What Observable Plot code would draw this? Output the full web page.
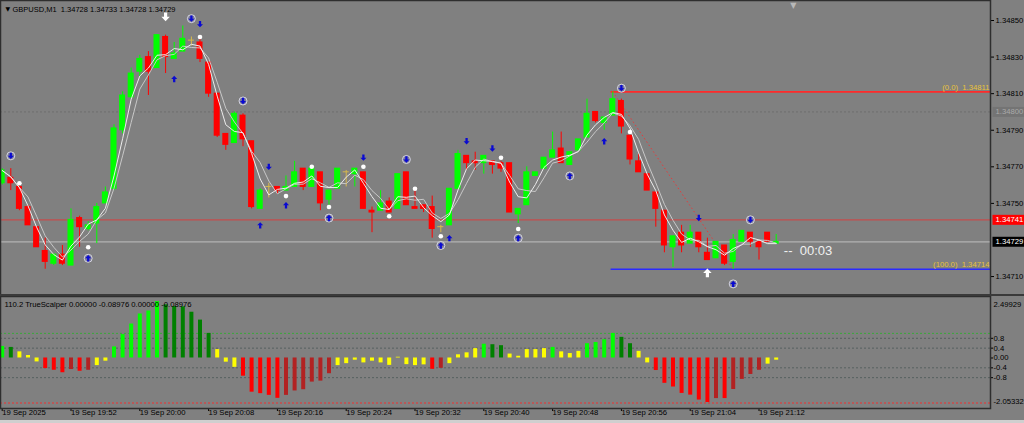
<!DOCTYPE html>
<html><head><meta charset="utf-8">
<script src="https://cdn.jsdelivr.net/npm/d3@7"></script>
<script src="https://cdn.jsdelivr.net/npm/@observablehq/plot@0.6"></script>
<style>
html,body{margin:0;padding:0;background:#808080;width:1024px;height:423px;overflow:hidden;}
#wrap{position:relative;width:1024px;height:423px;}
#main{position:absolute;left:0;top:0;}
#ind{position:absolute;left:0;top:295px;}
#sep{position:absolute;left:0;top:294px;width:1024px;height:2px;background:#3a3a3a;}
#foot{position:absolute;left:0;top:420px;width:1024px;height:3px;background:#cfcfcf;}
</style></head>
<body><div id="wrap"><div id="main"></div><div id="ind"></div><div id="sep"></div><div id="foot"></div></div>
<script>
// ---------- DATA ----------
const symbol = "GBPUSD,M1";
const openP = [1.34761,1.34764,1.34759,1.34748,1.34737,1.34724,1.34717,1.34722,1.34716,1.34742,1.34736,1.34739,1.34750,1.34758,1.34790,1.34808,1.34822,1.34830,1.34824,1.34841,1.34829,1.34833,1.34839,1.34838,1.34827,1.34810,1.34788,1.34783,1.34798,1.34784,1.34747,1.34759,1.34759,1.34757,1.34759,1.34769,1.34759,1.34767,1.34752,1.34758,1.34767,1.34766,1.34767,1.34746,1.34746,1.34751,1.34747,1.34767,1.34748,1.34749,1.34748,1.34737,1.34738,1.34758,1.34776,1.34773,1.34772,1.34773,1.34772,1.34772,1.34744,1.34749,1.34765,1.34769,1.34775,1.34780,1.34771,1.34779,1.34786,1.34800,1.34794,1.34798,1.34806,1.34787,1.34773,1.34766,1.34756,1.34746,1.34726,1.34734,1.34728,1.34734,1.34723,1.34720,1.34727,1.34718,1.34729,1.34734,1.34729,1.34734,1.34728];
const highP = [1.34769,1.34769,1.34760,1.34749,1.34737,1.34731,1.34722,1.34727,1.34747,1.34743,1.34740,1.34750,1.34759,1.34793,1.34811,1.34824,1.34831,1.34833,1.34842,1.34842,1.34838,1.34847,1.34841,1.34840,1.34827,1.34810,1.34788,1.34800,1.34799,1.34784,1.34758,1.34761,1.34759,1.34765,1.34773,1.34769,1.34769,1.34767,1.34757,1.34769,1.34768,1.34769,1.34767,1.34748,1.34757,1.34753,1.34766,1.34767,1.34757,1.34749,1.34754,1.34738,1.34758,1.34779,1.34776,1.34778,1.34776,1.34773,1.34773,1.34772,1.34747,1.34770,1.34767,1.34775,1.34789,1.34789,1.34778,1.34785,1.34807,1.34800,1.34797,1.34811,1.34807,1.34787,1.34777,1.34766,1.34756,1.34746,1.34732,1.34738,1.34738,1.34734,1.34731,1.34729,1.34727,1.34733,1.34735,1.34734,1.34729,1.34734,1.34733];
const lowP = [1.34760,1.34757,1.34746,1.34738,1.34726,1.34714,1.34716,1.34716,1.34716,1.34726,1.34735,1.34728,1.34750,1.34757,1.34788,1.34807,1.34819,1.34809,1.34824,1.34821,1.34829,1.34833,1.34836,1.34827,1.34808,1.34786,1.34779,1.34783,1.34781,1.34747,1.34747,1.34753,1.34755,1.34757,1.34759,1.34757,1.34759,1.34746,1.34749,1.34758,1.34759,1.34759,1.34747,1.34734,1.34746,1.34745,1.34747,1.34749,1.34747,1.34745,1.34731,1.34734,1.34738,1.34758,1.34768,1.34768,1.34766,1.34766,1.34767,1.34745,1.34739,1.34749,1.34765,1.34769,1.34775,1.34772,1.34771,1.34779,1.34786,1.34794,1.34790,1.34798,1.34788,1.34771,1.34767,1.34757,1.34737,1.34723,1.34715,1.34723,1.34728,1.34723,1.34719,1.34720,1.34716,1.34714,1.34729,1.34726,1.34719,1.34729,1.34728];
const closeP = [1.34768,1.34761,1.34747,1.34738,1.34726,1.34718,1.34722,1.34717,1.34741,1.34737,1.34738,1.34748,1.34756,1.34791,1.34809,1.34821,1.34829,1.34822,1.34842,1.34830,1.34832,1.34840,1.34839,1.34829,1.34810,1.34787,1.34782,1.34799,1.34785,1.34748,1.34757,1.34759,1.34757,1.34759,1.34767,1.34759,1.34769,1.34750,1.34757,1.34769,1.34767,1.34769,1.34747,1.34745,1.34750,1.34745,1.34766,1.34749,1.34747,1.34747,1.34736,1.34737,1.34758,1.34777,1.34772,1.34772,1.34776,1.34771,1.34769,1.34745,1.34747,1.34767,1.34767,1.34775,1.34779,1.34772,1.34778,1.34785,1.34799,1.34795,1.34797,1.34807,1.34792,1.34774,1.34767,1.34757,1.34747,1.34727,1.34732,1.34727,1.34734,1.34726,1.34719,1.34729,1.34717,1.34730,1.34735,1.34729,1.34726,1.34729,1.34729];

const priceTicks = [1.34850,1.34830,1.34810,1.34790,1.34770,1.34750,1.34710];
const dottedLevel = 1.34800;
const alertLevel = 1.34741;
const bidPrice = 1.34729;
const fibHigh = 1.34811, fibLow = 1.34714;
const fibPct = [0.0, 100.0];
const fibStartIdx = 71, fibEndIdx = 85;
const timerText = "--\u00a0\u00a000:03";

// signal markers: bar index, price, kind
const markIdx   = [19,22,23,23,20,28,1,2,10,10,31,30,33,33,36,38,38,42,42,47,45,48,51,51,52,54,57,58,60,60,66,70,72,73,81,87,82,85];
const markPrice = [1.34852,1.34851,1.34848,1.34841,1.34818,1.34806,1.34776,1.34761,1.34726,1.34720,1.34770,1.34738,1.34754,1.34749,1.34770,1.34748,1.34742,1.34775,1.34770,1.34774,1.34743,1.34758,1.34732,1.34727,1.34731,1.34784,1.34780,1.34775,1.34736,1.34731,1.34765,1.34784,1.34813,1.34789,1.34742,1.34741,1.34712,1.34706];
const markKind  = ["bigSell","sellRing","sell","dot","buy","sellRing","sellRing","dot","dot","buyRing","sell","buy","dot","buy","dot","dot","buyRing","sell","dot","sellRing","dot","dot","dot","buyRing","buy","sell","sell","dot","dot","buyRing","buyRing","buy","sellRing","dot","sell","sellRing","bigBuy","buyRing"];

// TrueScalper histogram
const histVals = [0.47,0.43,0.25,0.10,-0.16,-0.43,-0.50,-0.60,-0.47,-0.54,-0.50,-0.31,-0.13,
 0.45,0.95,1.38,1.79,1.91,2.29,2.16,2.09,2.08,1.86,1.54,1.00,
 0.34,-0.17,-0.38,-0.74,-1.39,-1.45,-1.52,-1.64,-1.52,-1.34,-1.29,-0.98,-0.94,-0.64,
 -0.31,-0.23,-0.09,-0.20,-0.13,-0.20,-0.30,0.03,
 -0.27,-0.31,-0.28,-0.46,-0.42,-0.23,0.13,0.21,0.38,0.56,0.54,0.50,0.16,0.07,0.34,0.34,0.38,0.43,0.25,0.18,0.27,0.58,0.63,0.74,1.00,0.84,0.58,0.27,-0.20,-0.51,-1.03,-1.18,-1.44,-1.51,-1.71,-1.81,-1.65,-1.65,-1.28,-0.87,-0.67,-0.50,-0.25,-0.08976];
const histState = ["up","upFade","flat","flat","flat","down","down","down","downFade","down","downFade","flat","flat",
 "up","up","up","up","up","up","upFade","upFade","upFade","upFade","upFade","upFade",
 "flat","flat","flat","down","down","down","down","down","downFade","downFade","downFade","downFade","downFade","downFade",
 "flat","flat","flat","flat","flat","flat","flat","flat",
 "flat","flat","flat","down","downFade","flat","flat","flat","flat","up","upFade","upFade","flat","flat","flat","flat","flat","up","flat","flat","flat","up","up","up","up","upFade","upFade","flat","flat","down","down","down","down","down","down","down","downFade","down","downFade","downFade","downFade","downFade","flat","flat"];
const indName = "110.2 TrueScalper";
const indHeaderVals = [0, -0.08976, 0, -0.08976];
const indMax = 2.49929, indMin = -2.05332;
const indTicks = [0.8, 0.4, 0, -0.4, -0.8];
const indTickText = ["0.8","0.4","0.00","-0.4","-0.8"];
const upperLevel = 1.0, lowerLevel = -1.83;
const midLevels = [0.8, 0.4, -0.4, -0.8];

const timeTickIdx = [0,8,16,24,32,40,48,56,64,72,80,88];
const timeLabels = ["19 Sep 2025","19 Sep 19:52","19 Sep 20:00","19 Sep 20:08","19 Sep 20:16","19 Sep 20:24","19 Sep 20:32","19 Sep 20:40","19 Sep 20:48","19 Sep 20:56","19 Sep 21:04","19 Sep 21:12"];

// ---------- LAYOUT / STYLE ----------
const N = closeP.length;
const barX0 = 1.7, barStep = 8.6, plotRight = 990;
const xDom = [-barX0 / barStep, (plotRight - barX0) / barStep];
const pxPerPrice = 182900;
const yDom = [priceTicks[0] - 275 / pxPerPrice, priceTicks[0] + 20 / pxPerPrice];
const font = "'Liberation Sans', Arial, sans-serif";
const baseStyle = {background: "none", fontFamily: font, fontSize: "7.7px", color: "#000", overflow: "visible"};

// block-arrow symbols (d3 symbol-type interface)
function arrowSymbol(dir) {
  return {draw(ctx, size) {
    const r = Math.sqrt(size) / 2, w = 0.36 * r, s = dir;
    ctx.moveTo(-w, -s * r); ctx.lineTo(w, -s * r); ctx.lineTo(w, 0);
    ctx.lineTo(0.95 * r, 0); ctx.lineTo(0, s * r); ctx.lineTo(-0.95 * r, 0);
    ctx.lineTo(-w, 0); ctx.closePath();
  }};
}
const downArrow = arrowSymbol(1), upArrow = arrowSymbol(-1);

const candles = d3.range(N).map(i => ({i, o: openP[i], h: highP[i], l: lowP[i], c: closeP[i]}));
const candleColor = d => d.c > d.o ? "#00ff00" : d.c < d.o ? "#ff0000" : "#d6b84c";
const markers = markIdx.map((i, k) => ({i, p: markPrice[k], t: markKind[k]}));
const isBuy = d => d.t.toLowerCase().includes("buy");
const histColor = {up: "#00ff00", upFade: "#008000", flat: "#ffff00", down: "#ff0000", downFade: "#b22222"};
const boxSpecs = [
  {v: dottedLevel, bg: "#747474", fg: "#a9a9a9"},
  {v: alertLevel, bg: "#ff0000", fg: "#ffffff"},
  {v: bidPrice, bg: "#000000", fg: "#ffffff"}
];
const last = N - 1;
const headerText = `${symbol}\u00a0\u00a0${openP[last].toFixed(5)} ${highP[last].toFixed(5)} ${lowP[last].toFixed(5)} ${closeP[last].toFixed(5)}`;

const blueMarks = markers.filter(d => d.t === "buy" || d.t === "sell" || d.t.endsWith("Ring"));
const bigMarks = markers.filter(d => d.t.startsWith("big"));

const main = Plot.plot({
  width: 1024, height: 295,
  marginLeft: 0, marginRight: 34, marginTop: 0, marginBottom: 0,
  style: baseStyle,
  x: {domain: xDom, axis: null},
  y: {domain: yDom, axis: "right", ticks: priceTicks, tickFormat: d => d.toFixed(5), tickSize: 3, tickPadding: 2, label: null},
  marks: [
    Plot.ruleY([dottedLevel], {stroke: "#6e6e6e", strokeDasharray: "2,2"}),
    Plot.ruleY([alertLevel], {stroke: "#c44c4c", strokeWidth: 1.3}),
    Plot.ruleY([bidPrice], {stroke: "#b2b2b2", strokeWidth: 1.3}),
    Plot.ruleY([fibHigh], {x1: fibStartIdx - 0.2, x2: xDom[1], stroke: "#ff2a2a", strokeWidth: 1.6}),
    Plot.ruleY([fibLow], {x1: fibStartIdx - 0.2, x2: xDom[1], stroke: "#2a2aff", strokeWidth: 1.6}),
    Plot.link([0], {x1: fibStartIdx, y1: fibHigh, x2: fibEndIdx, y2: fibLow, stroke: "#e83a3a", strokeDasharray: "1.5,2.5"}),
    Plot.text([fibHigh, fibLow], {y: d => d, text: (d, k) => `(${fibPct[k].toFixed(1)})\u00a0\u00a0${d.toFixed(5)}`, frameAnchor: "right", textAnchor: "end", dx: -1, dy: -4.5, fill: "#e8c23a"}),
    Plot.ruleX(candles, {x: "i", y1: "l", y2: "h", stroke: candleColor, strokeWidth: 1}),
    Plot.rect(candles, {x1: d => d.i - 0.35, x2: d => d.i + 0.35, y1: "o", y2: "c", fill: candleColor, insetTop: -0.5, insetBottom: -0.5}),
    Plot.lineY(closeP, Plot.windowY({k: 4, anchor: "end"}, {x: (d, i) => i, y: d => d, stroke: "#c8c8c8", strokeWidth: 1})),
    Plot.lineY(closeP, Plot.windowY({k: 3, anchor: "end"}, {x: (d, i) => i, y: d => d, stroke: "#ececec", strokeWidth: 1})),
    Plot.dot(markers.filter(d => d.t === "dot"), {x: "i", y: "p", r: 2.3, fill: "#ffffff"}),
    Plot.dot(markers.filter(d => d.t.endsWith("Ring")), {x: "i", y: "p", r: 4, fill: "#7e7e9a", stroke: "#dcdce8", strokeWidth: 0.9}),
    Plot.dot(blueMarks.filter(isBuy), {x: "i", y: "p", r: 3.6, symbol: upArrow, fill: "#0a0ad2", stroke: "none"}),
    Plot.dot(blueMarks.filter(d => !isBuy(d)), {x: "i", y: "p", r: 3.6, symbol: downArrow, fill: "#0a0ad2", stroke: "none"}),
    Plot.dot(bigMarks.filter(isBuy), {x: "i", y: "p", r: 5, symbol: upArrow, fill: "#ffffff", stroke: "none"}),
    Plot.dot(bigMarks.filter(d => !isBuy(d)), {x: "i", y: "p", r: 5, symbol: downArrow, fill: "#ffffff", stroke: "none"}),
    Plot.text(boxSpecs, {y: "v", text: d => d.v.toFixed(5), frameAnchor: "right", textAnchor: "start", dx: 5, fill: d => d.fg}),
    Plot.text([timerText], {x: N, y: bidPrice, text: d => d, textAnchor: "start", dx: -1, dy: 9, fill: "#f0f0f0", fontSize: 13}),
    Plot.text(["\u25BC"], {x: N + 1, frameAnchor: "top", text: d => d, dy: 2, fill: "#b8b8b8", fontSize: 8, fontFamily: "DejaVu Sans"}),
    Plot.text(["\u25BC"], {frameAnchor: "top-left", text: d => d, dx: 5, dy: 6.5, fill: "#000", fontSize: 6, fontFamily: "DejaVu Sans"}),
    Plot.text([headerText], {frameAnchor: "top-left", text: d => d, textAnchor: "start", dx: 12, dy: 6.5, fill: "#000", fontSize: 7.5}),
    Plot.frame({stroke: "#2e2e2e", strokeWidth: 1.5})
  ]
});

const ind = Plot.plot({
  width: 1024, height: 125,
  marginLeft: 0, marginRight: 34, marginTop: 1, marginBottom: 12,
  style: baseStyle,
  x: {domain: xDom, axis: "bottom", ticks: timeTickIdx, tickFormat: () => "", tickSize: 3, label: null},
  y: {domain: [indMin, indMax], axis: "right", ticks: indTicks, tickFormat: d => indTickText[indTicks.indexOf(d)], tickSize: 2, tickPadding: 1, label: null},
  marks: [
    Plot.ruleY([upperLevel], {stroke: "#3aa83a", strokeDasharray: "2,2"}),
    Plot.ruleY(midLevels, {stroke: "#56605f", strokeDasharray: "2,2"}),
    Plot.ruleY([lowerLevel], {stroke: "#ee3030", strokeDasharray: "2,2"}),
    Plot.ruleX(histVals, {x: (d, i) => i, y1: 0, y2: d => d, stroke: (d, i) => histColor[histState[i]], strokeWidth: 4}),
    Plot.text([`${indName} ${indHeaderVals.map(v => v.toFixed(5)).join(" ")}`], {frameAnchor: "top-left", text: d => d, textAnchor: "start", dx: 4, dy: 5, fill: "#000"}),
    Plot.text([indMax], {frameAnchor: "top-right", text: d => d.toFixed(5), textAnchor: "start", dx: 3, dy: 5, fill: "#000"}),
    Plot.text([indMin], {frameAnchor: "bottom-right", text: d => d.toFixed(5), textAnchor: "start", dx: 3, dy: -5, fill: "#000"}),
    Plot.text(timeTickIdx, {x: d => d, text: (d, k) => timeLabels[k], frameAnchor: "bottom", textAnchor: "start", dx: 0, dy: 6, fill: "#000"}),
    Plot.frame({stroke: "#2e2e2e", strokeWidth: 1.5})
  ]
});

document.getElementById("main").appendChild(main);
document.getElementById("ind").appendChild(ind);

// background boxes behind the right-axis price labels
(function addBoxes(svg) {
  const sb = svg.getBoundingClientRect();
  const W = +svg.getAttribute("width");
  d3.select(svg).selectAll("text").each(function() {
    const spec = boxSpecs.find(s => s.v.toFixed(5) === this.textContent);
    if (!spec) return;
    const b = this.getBoundingClientRect();
    let top = this;
    while (top.parentNode && top.parentNode !== svg) top = top.parentNode;
    const r = document.createElementNS("http://www.w3.org/2000/svg", "rect");
    const x0 = b.left - sb.left - 3;
    r.setAttribute("x", x0);
    r.setAttribute("y", b.top - sb.top - 0.5);
    r.setAttribute("width", W - x0);
    r.setAttribute("height", b.height + 1);
    r.setAttribute("fill", spec.bg);
    svg.insertBefore(r, top);
  });
})(main);
</script>
</body></html>
